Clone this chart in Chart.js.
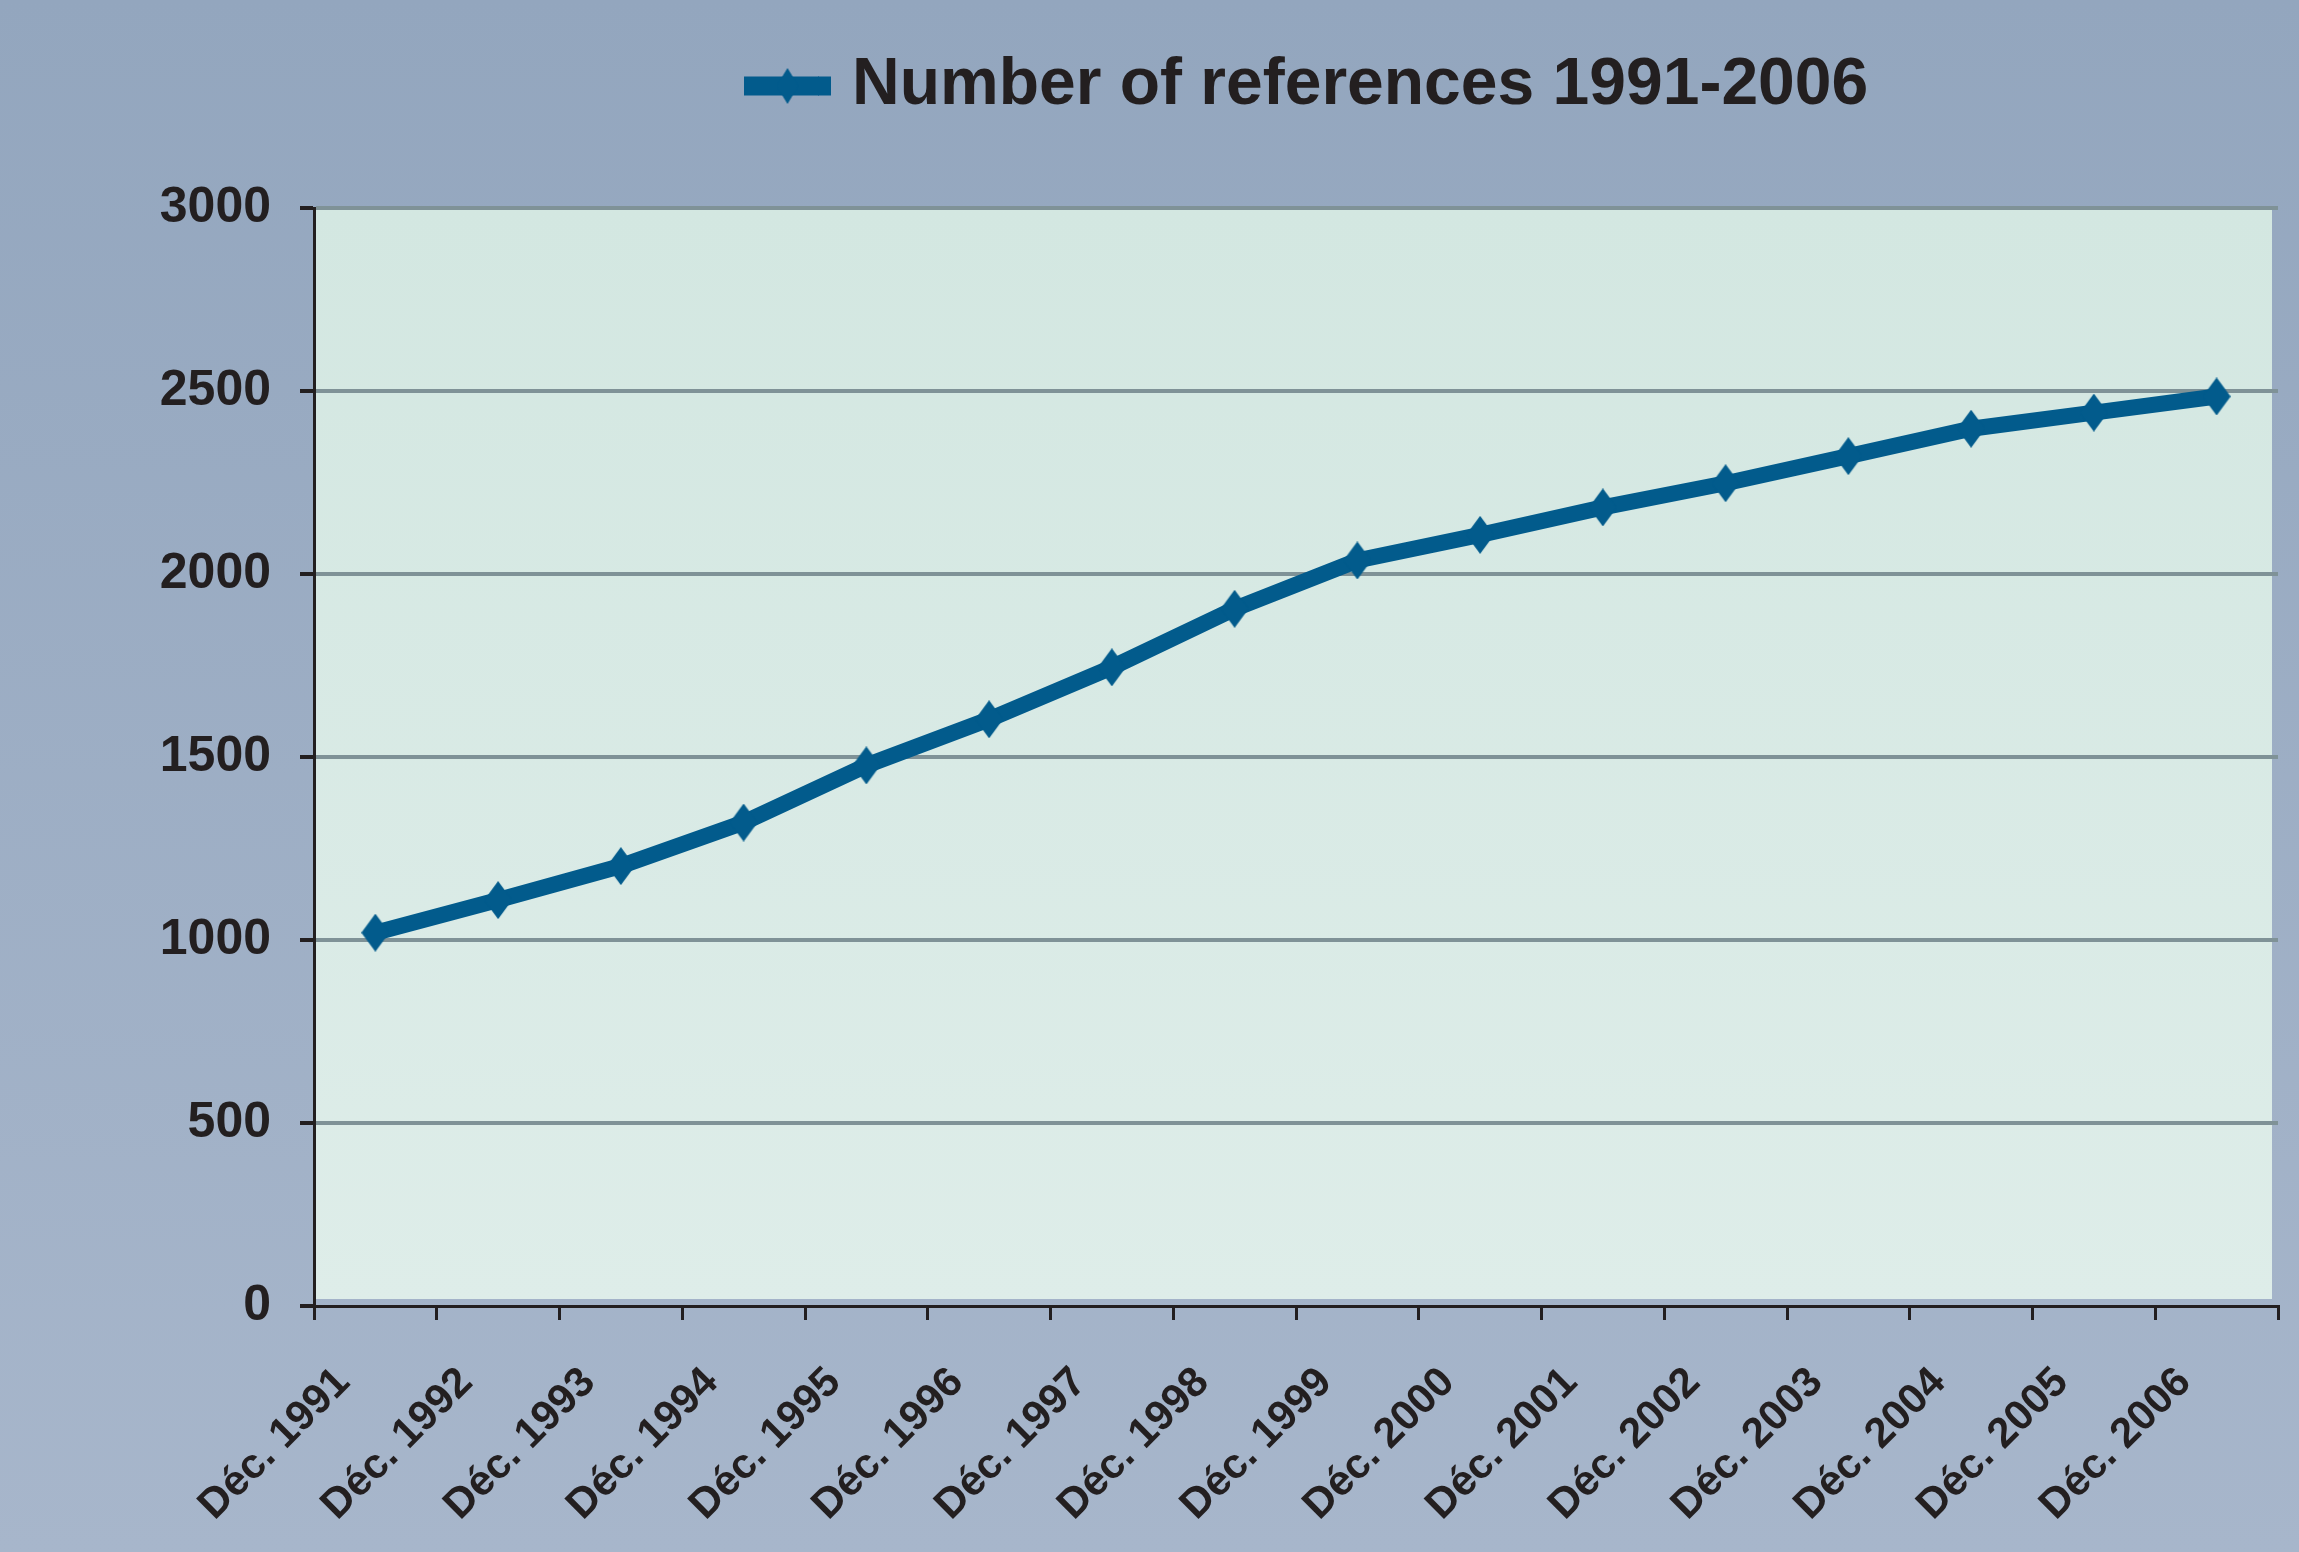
<!DOCTYPE html>
<html>
<head>
<meta charset="utf-8">
<script src="https://cdn.jsdelivr.net/npm/chart.js@4.4.1/dist/chart.umd.min.js"></script>
<style>
  html, body { margin: 0; padding: 0; }
  body { width: 2299px; height: 1552px; overflow: hidden; }
  #wrap { width: 2299px; height: 1552px; position: relative; }
</style>
</head>
<body>
<div id="wrap"><canvas id="c" width="2299" height="1552"></canvas></div>
<script>
const categories = ['Déc. 1991','Déc. 1992','Déc. 1993','Déc. 1994','Déc. 1995','Déc. 1996','Déc. 1997','Déc. 1998','Déc. 1999','Déc. 2000','Déc. 2001','Déc. 2002','Déc. 2003','Déc. 2004','Déc. 2005','Déc. 2006'];
const references = [1020, 1109, 1202, 1321, 1477, 1603, 1745, 1905, 2037, 2107, 2182, 2248, 2322, 2397, 2441, 2485];
const seriesLabel = 'Number of references 1991-2006';
const yTicks = [0, 500, 1000, 1500, 2000, 2500, 3000];

const LINE = '#025B8C';
const GRID = '#7F9297';
const INK = '#231F20';
const FONT = '"Liberation Sans", Arial, Helvetica, sans-serif';

function diamond(w, h) {
  const c = document.createElement('canvas');
  c.width = w; c.height = h;
  const g = c.getContext('2d');
  g.fillStyle = LINE;
  g.beginPath();
  g.moveTo(w / 2, 0); g.lineTo(w, h / 2); g.lineTo(w / 2, h); g.lineTo(0, h / 2);
  g.closePath(); g.fill();
  return c;
}
const marker = diamond(28, 38);
const legendMarker = diamond(22, 36);
const LEG_BOX = 75;
const LEG_FULL = 87;
const LEG_LEFT = 744;

const bgPlugin = {
  id: 'bgPlugin',
  beforeDraw(chart) {
    const ctx = chart.ctx, W = chart.width, H = chart.height;
    ctx.save();
    const g = ctx.createLinearGradient(0, 0, 0, H);
    g.addColorStop(0, '#93A6BE');
    g.addColorStop(1, '#A7B6CB');
    ctx.fillStyle = g;
    ctx.fillRect(0, 0, W, H);
    const a = chart.chartArea;
    const g2 = ctx.createLinearGradient(0, a.top, 0, a.bottom);
    g2.addColorStop(0, '#D3E7E1');
    g2.addColorStop(1, '#DEEDE9');
    ctx.fillStyle = g2;
    ctx.fillRect(a.left, a.top, a.right - a.left - 6, a.bottom - a.top - 7);
    ctx.restore();
  },
  afterLayout(chart) {
    const lg = chart.legend;
    if (!lg || !lg.lineWidths) return;
    const P = lg.options.labels.padding;
    const start = (lg.left + P + lg.right - lg.lineWidths[0]) / 2;
    const dx = LEG_LEFT - start;
    lg.left += dx; lg.right += dx;
    const newTop = 86 - 33 - P;
    const dy = newTop - lg.top;
    lg.top += dy; lg.bottom += dy;
  },
  afterDraw(chart) {
    const lg = chart.legend;
    if (!lg || !lg.legendHitBoxes || !lg.legendHitBoxes.length) return;
    const hb = lg.legendHitBoxes[0];
    const ctx = chart.ctx;
    const cy = hb.top + hb.height / 2;
    ctx.save();
    ctx.fillStyle = LINE;
    ctx.fillRect(hb.left + LEG_BOX - 1, cy - 9.5, LEG_FULL - LEG_BOX + 1, 19);
    const cx = hb.left + LEG_FULL / 2;
    ctx.drawImage(legendMarker, cx - legendMarker.width / 2, cy - legendMarker.height / 2);
    ctx.restore();
  }
};

new Chart(document.getElementById('c'), {
  type: 'line',
  data: {
    labels: categories,
    datasets: [{
      label: seriesLabel,
      data: references,
      borderColor: LINE,
      backgroundColor: LINE,
      borderWidth: 16,
      tension: 0,
      pointStyle: marker,
      pointRadius: 19,
      pointHoverRadius: 19,
      pointBorderWidth: 0,
      pointHoverBorderWidth: 0,
      fill: false
    }]
  },
  options: {
    responsive: false,
    animation: false,
    devicePixelRatio: 1,
    layout: { padding: { top: 122, right: 21, left: 0, bottom: 0 } },
    plugins: {
      tooltip: { enabled: false },
      legend: {
        display: true,
        position: 'top',
        labels: {
          color: INK,
          font: { family: FONT, size: 66, weight: 'bold' },
          boxWidth: LEG_BOX,
          boxHeight: 19,
          padding: 10,
          generateLabels(chart) {
            const ds = chart.data.datasets[0];
            return [{ text: ds.label, fillStyle: LINE, strokeStyle: LINE, lineWidth: 0, fontColor: INK, datasetIndex: 0, hidden: false }];
          }
        }
      }
    },
    scales: {
      x: {
        type: 'category',
        offset: true,
        grid: {
          display: true,
          offset: true,
          drawOnChartArea: false,
          drawTicks: true,
          tickLength: 14,
          color: INK,
          tickColor: INK,
          lineWidth: 3
        },
        border: { display: true, color: INK, width: 3 },
        ticks: {
          color: INK,
          font: { family: FONT, size: 42, weight: 'bold' },
          minRotation: 45,
          maxRotation: 45,
          autoSkip: false,
          padding: 38,
          labelOffset: -32
        },
        afterFit(scale) {
          scale.height = 246;
          scale.paddingLeft = 0;
          scale.paddingRight = 0;
        }
      },
      y: {
        min: 0,
        max: 3000,
        afterBuildTicks(scale) { scale.ticks = yTicks.map(v => ({ value: v })); },
        grid: {
          color: ctx => (ctx.tick && ctx.tick.value === 0) ? 'rgba(0,0,0,0)' : GRID,
          tickColor: INK,
          lineWidth: 4,
          tickLength: 14,
          drawTicks: true
        },
        border: { display: true, color: INK, width: 3 },
        ticks: {
          color: INK,
          font: { family: FONT, size: 50, weight: 'bold' },
          padding: 29,
          callback: v => String(v)
        },
        afterFit(scale) { scale.width = 314; }
      }
    }
  },
  plugins: [bgPlugin]
});
</script>
</body>
</html>
